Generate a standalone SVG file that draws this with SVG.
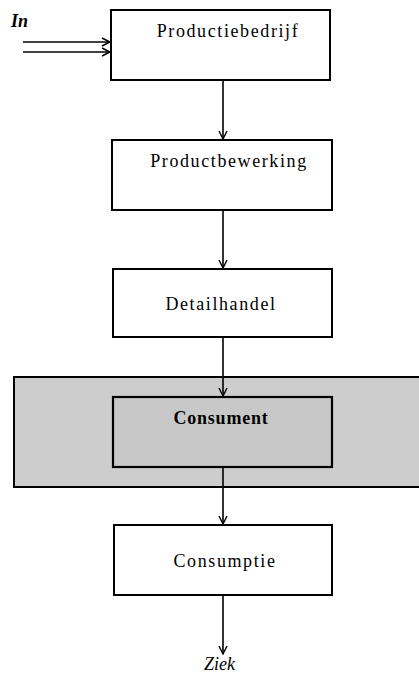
<svg xmlns="http://www.w3.org/2000/svg" width="419" height="673" viewBox="0 0 419 673">
<defs>
<marker id="ah" markerWidth="12" markerHeight="12" refX="10" refY="5" orient="auto" markerUnits="userSpaceOnUse">
<path d="M2,1 L10,5 L2,9" fill="none" stroke="#000" stroke-width="1.4"/>
</marker>
<style>
.box{fill:#fff;stroke:#000;stroke-width:2}
.lbl{font-family:"Liberation Serif","Times New Roman",serif;font-size:18px;letter-spacing:1.6px;text-anchor:middle;fill:#000}
.it{font-family:"Liberation Serif","Times New Roman",serif;font-size:18px;font-style:italic;fill:#000}
.con{stroke:#000;stroke-width:1.6;fill:none;marker-end:url(#ah)}
</style>
</defs>
<rect width="419" height="673" fill="#fff"/>
<g id="band"><rect x="14" y="377" width="410" height="110" fill="#cdcdcd" stroke="#000" stroke-width="2"/></g>
<g id="n1"><rect class="box" x="111" y="10" width="219" height="70"/><text class="lbl" x="228" y="37">Productiebedrijf</text></g>
<g id="n2"><rect class="box" x="112" y="140" width="220" height="70"/><text class="lbl" x="229" y="167">Productbewerking</text></g>
<g id="n3"><rect class="box" x="113" y="269" width="219" height="68"/><text class="lbl" x="221" y="310">Detailhandel</text></g>
<g id="n4"><rect x="113" y="397" width="219" height="70" fill="#c8c8c8" stroke="#000" stroke-width="2.2"/><text class="lbl" x="221" y="424" font-weight="bold" style="letter-spacing:0.8px">Consument</text></g>
<g id="n5"><rect class="box" x="114" y="525" width="218" height="70"/><text class="lbl" x="225" y="567">Consumptie</text></g>
<text class="it" x="11" y="27" font-weight="bold">In</text>
<text class="it" x="204" y="670">Ziek</text>
<g id="connectors">
<line class="con" x1="23" y1="42" x2="110" y2="42"/>
<line class="con" x1="23" y1="52" x2="110" y2="52"/>
<line class="con" x1="223" y1="80" x2="223" y2="139"/>
<line class="con" x1="223" y1="210" x2="223" y2="268"/>
<line class="con" x1="223" y1="337" x2="223" y2="396"/>
<line class="con" x1="223" y1="467" x2="223" y2="524"/>
<line class="con" x1="223" y1="595" x2="223" y2="654"/>
</g>
</svg>
